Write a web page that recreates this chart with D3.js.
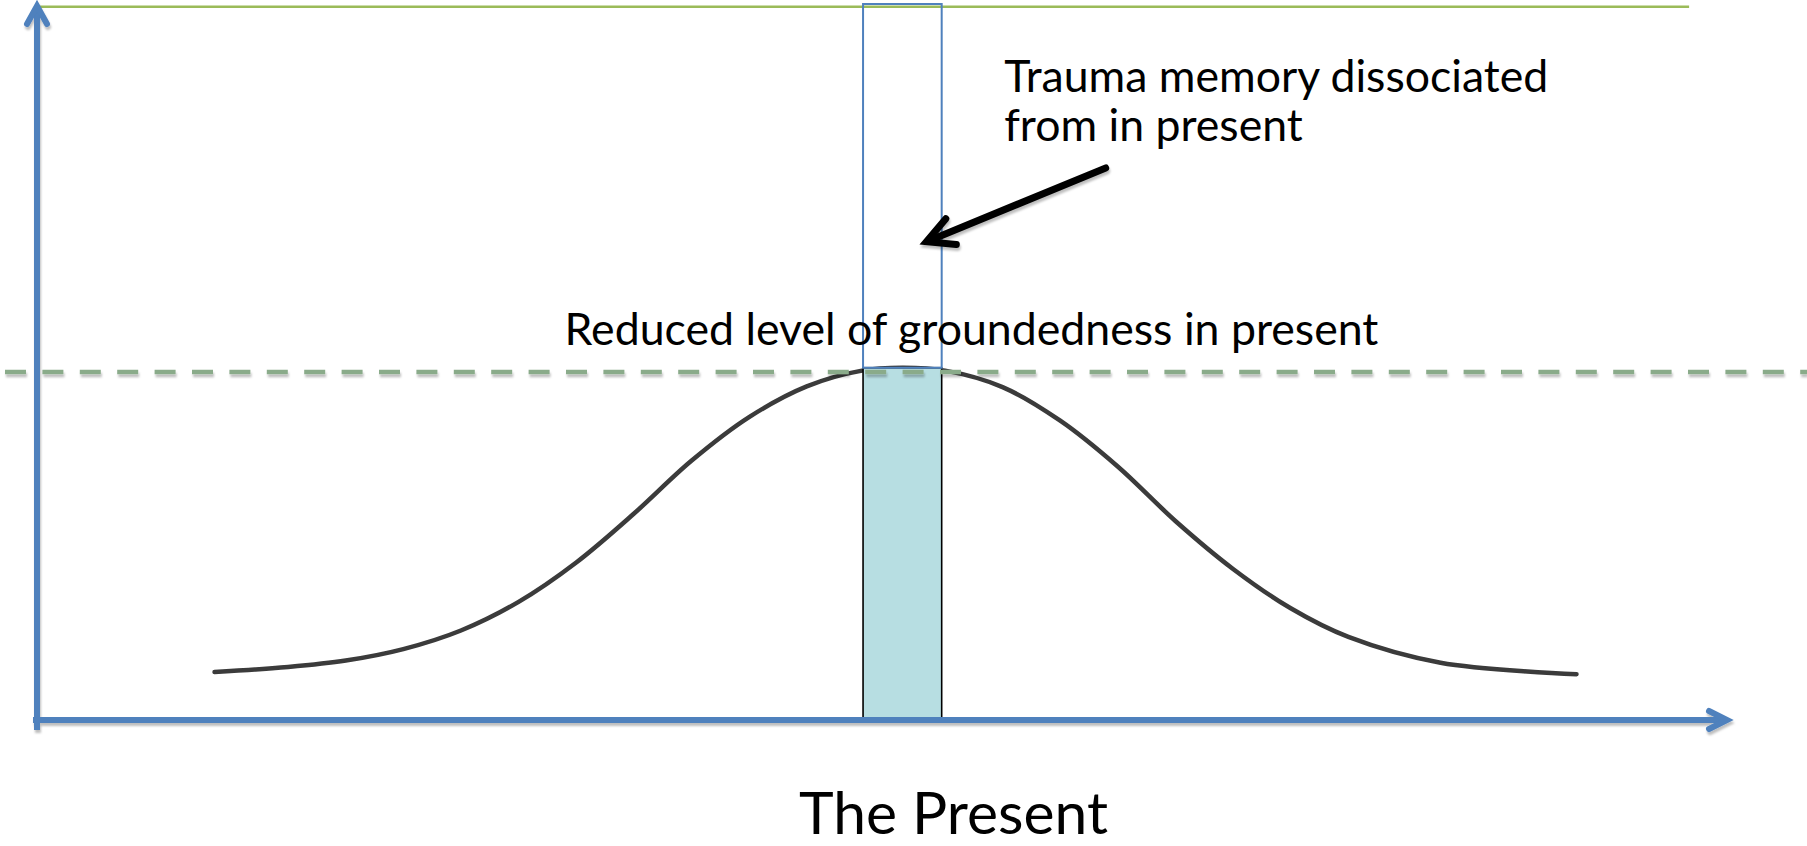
<!DOCTYPE html>
<html>
<head>
<meta charset="utf-8">
<script src="https://cdn.jsdelivr.net/npm/d3@7"></script>
<style>
  html, body { margin: 0; padding: 0; background: #fff; overflow: hidden; }
  svg { display: block; }
  text { font-family: Lato, "Open Sans", sans-serif; fill: #000; }
</style>
</head>
<body>
<svg id="chart"></svg>
<script>
// data (chart units: x 0..100 along time axis, y 0..100 up the vertical axis)
var curveX = [10.5, 14.85, 18.26, 21.66, 25.07, 28.48, 31.89, 35.29, 38.7, 42.11, 45.52, 48.79,
              51.17, 53.7, 57.1, 60.51, 63.91, 67.32, 70.73, 74.14, 77.55, 83.0, 91.04];
var curveY = [6.7, 7.4, 8.3, 9.9, 12.5, 16.5, 22.0, 28.8, 36.2, 42.3, 46.6, 48.8,
              49.2, 48.8, 46.5, 41.8, 35.4, 27.8, 21.1, 15.6, 11.6, 8.0, 6.4];
var presentBand = [48.85, 53.5];     // x extent of "the present"
var groundedLevel = 49.2;            // top of filled band
var dashedLevel = 48.6;              // reduced groundedness line
var memoryTop = 100;                 // top of the dissociated memory box
var topLevel = 99.6;                 // green line level
var labels = {
    memory: ["Trauma memory dissociated", "from in present"],
    grounded: "Reduced level of groundedness in present",
    axis: "The Present"
};

var width = 1807, height = 846;
var svg = d3.select("#chart").attr("width", width).attr("height", height);

var x = d3.scaleLinear().domain([0, 100]).range([37, 1728]);
var y = d3.scaleLinear().domain([0, 100]).range([720, 4]);

// drop shadow like the office shapes (user space so flat lines keep it)
var defs = svg.append("defs");
var f = defs.append("filter").attr("id", "shadow")
    .attr("filterUnits", "userSpaceOnUse")
    .attr("x", 0).attr("y", 0).attr("width", width).attr("height", height);
f.append("feDropShadow").attr("dx", 1).attr("dy", 3).attr("stdDeviation", 1.2)
    .attr("flood-color", "#000").attr("flood-opacity", 0.25);
var blur = defs.append("filter").attr("id", "soft")
    .attr("filterUnits", "userSpaceOnUse")
    .attr("x", 0).attr("y", 0).attr("width", width).attr("height", height);
blur.append("feGaussianBlur").attr("stdDeviation", 0.6);

// green top line
svg.append("line")
    .attr("x1", x(0)).attr("x2", x(97.7))
    .attr("y1", y(topLevel)).attr("y2", y(topLevel))
    .attr("stroke", "#9bbb59").attr("stroke-width", 2.5);

// bell curve
var pts = curveX.map(function (d, i) { return [d, curveY[i]]; });
var line = d3.line()
    .x(function (d) { return x(d[0]); })
    .y(function (d) { return y(d[1]); })
    .curve(d3.curveCatmullRom.alpha(0.5));
svg.append("path")
    .attr("d", line(pts))
    .attr("fill", "none")
    .attr("stroke", "#3a3a3a")
    .attr("stroke-width", 4.5)
    .attr("stroke-linecap", "round")
    .attr("filter", "url(#soft)");

// filled present band
svg.append("rect")
    .attr("x", x(presentBand[0]))
    .attr("y", y(groundedLevel))
    .attr("width", x(presentBand[1]) - x(presentBand[0]))
    .attr("height", y(0) - y(groundedLevel))
    .attr("fill", "#b7dee2")
    .attr("stroke", "#000")
    .attr("stroke-width", 1.6);

// dissociated memory box
svg.append("rect")
    .attr("x", x(presentBand[0]))
    .attr("y", y(memoryTop))
    .attr("width", x(presentBand[1]) - x(presentBand[0]))
    .attr("height", y(groundedLevel) - y(memoryTop))
    .attr("fill", "none")
    .attr("stroke", "#4f81bd")
    .attr("stroke-width", 2);

// dashed groundedness line
svg.append("line")
    .attr("x1", 5).attr("x2", width)
    .attr("y1", y(dashedLevel)).attr("y2", y(dashedLevel))
    .attr("stroke", "#8aab8a")
    .attr("stroke-width", 4.5)
    .attr("stroke-dasharray", "21 16.4")
    .attr("filter", "url(#shadow)");

// axes with open arrow heads
var axisG = svg.append("g")
    .attr("stroke", "#4f81bd")
    .attr("stroke-width", 6)
    .attr("fill", "none")
    .attr("filter", "url(#shadow)");
axisG.append("line")
    .attr("x1", x(0)).attr("x2", x(0))
    .attr("y1", y(0) + 10).attr("y2", y(100) + 1);
axisG.append("path")
    .attr("stroke-linecap", "round").attr("stroke-linejoin", "miter")
    .attr("d", "M" + (x(0) - 10) + "," + (y(100) + 20) + "L" + x(0) + "," + (y(100) + 2) +
               "L" + (x(0) + 10) + "," + (y(100) + 20));
axisG.append("line")
    .attr("x1", x(0) - 4).attr("x2", x(100) - 2)
    .attr("y1", y(0)).attr("y2", y(0));
axisG.append("path")
    .attr("stroke-linecap", "round").attr("stroke-linejoin", "miter")
    .attr("d", "M" + (x(100) - 19) + "," + (y(0) - 9) + "L" + (x(100) - 1) + "," + y(0) +
               "L" + (x(100) - 19) + "," + (y(0) + 9));

// black pointer arrow
var from = [63.2, 77.1], to = [52.6, 66.8];
var ang = Math.atan2(y(from[1]) - y(to[1]), x(from[0]) - x(to[0]));
var head = 30, spread = 0.48;
var arrow = svg.append("g")
    .attr("stroke", "#000").attr("stroke-width", 7).attr("fill", "none")
    .attr("stroke-linecap", "round").attr("stroke-linejoin", "miter")
    .attr("filter", "url(#shadow)");
arrow.append("line")
    .attr("x1", x(from[0])).attr("y1", y(from[1]))
    .attr("x2", x(to[0]) + 4 * Math.cos(ang)).attr("y2", y(to[1]) + 4 * Math.sin(ang));
arrow.append("path")
    .attr("d", "M" + (x(to[0]) + head * Math.cos(ang - spread)) + "," + (y(to[1]) + head * Math.sin(ang - spread)) +
               "L" + x(to[0]) + "," + y(to[1]) +
               "L" + (x(to[0]) + head * Math.cos(ang + spread)) + "," + (y(to[1]) + head * Math.sin(ang + spread)));

// texts, sized to match the original widths
function fit(sel, w) {
    var cur = sel.node().getComputedTextLength();
    var fs = parseFloat(sel.attr("font-size"));
    sel.attr("font-size", fs * w / cur);
    return fs * w / cur;
}
var m1 = svg.append("text").attr("x", x(57.2)).attr("y", y(87.7))
    .attr("font-size", 40).text(labels.memory[0]);
var fsMem = fit(m1, 544);
svg.append("text").attr("x", x(57.2)).attr("y", y(80.9))
    .attr("font-size", fsMem).text(labels.memory[1]);

var g1 = svg.append("text").attr("x", x(31.2)).attr("y", y(52.4))
    .attr("font-size", 40).text(labels.grounded);
fit(g1, 814);

var t1 = svg.append("text").attr("x", x(54.2)).attr("y", y(-15.9))
    .attr("text-anchor", "middle")
    .attr("font-size", 60).text(labels.axis);
fit(t1, 309);
</script>
</body>
</html>
